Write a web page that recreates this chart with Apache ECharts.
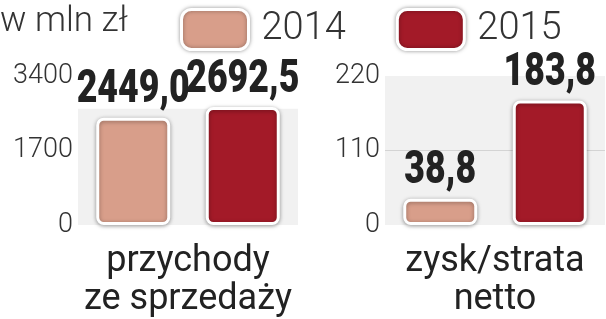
<!DOCTYPE html>
<html>
<head>
<meta charset="utf-8">
<script src="https://cdn.jsdelivr.net/npm/echarts@6/dist/echarts.min.js"></script>
<style>
html,body{margin:0;padding:0;background:#fff;}
#chart{width:606px;height:319px;}
</style>
</head>
<body>
<div id="chart"></div>
<script>
const categories = ['przychody\nze sprzedaży', 'zysk/strata\nnetto'];
const seriesNames = ['2014', '2015'];
const values2014 = [2449.0, 38.8];
const values2015 = [2692.5, 183.8];
const leftTicks = [0, 1700, 3400];
const rightTicks = [0, 110, 220];
const unitLabel = 'w mln zł';

const colors = ['#d89e8a', '#a31a28'];
const barStyle = (c) => ({
  color: c, borderColor: '#ffffff', borderWidth: 3, borderRadius: 6,
  shadowBlur: 4, shadowColor: 'rgba(0,0,0,0.35)', shadowOffsetY: 1
});
const fmtNum = (v) => v.toFixed(1).replace('.', ',');
const axisFont = "Roboto, 'Open Sans', sans-serif";
const BAR_W = 74, BAR_GAP = 0.48;

function yAx(gridIndex, ticks) {
  return {
    type: 'value', gridIndex, min: ticks[0], max: ticks[ticks.length - 1],
    interval: ticks[1] - ticks[0],
    axisLine: { show: false }, axisTick: { show: false },
    axisLabel: { margin: 5, fontFamily: axisFont, fontWeight: 300, fontSize: 27, color: '#333',
      formatter: (v) => String(v) },
    splitLine: { show: true, lineStyle: { color: ['rgba(0,0,0,0)', '#d4d4d4', 'rgba(0,0,0,0)'], width: 1 } }
  };
}
function xAx(gridIndex, cat) {
  return {
    type: 'category', gridIndex, data: [cat],
    axisLine: { show: false }, axisTick: { show: false },
    axisLabel: { margin: 18, fontFamily: axisFont, fontWeight: 400, fontSize: 36, lineHeight: 38, color: '#222' }
  };
}
// value labels: custom series of condensed bold text placed over each bar
function labelSeries(gridIndex, vals) {
  return {
    type: 'custom', xAxisIndex: gridIndex, yAxisIndex: gridIndex, silent: true, z: 10,
    data: vals.map((v, i) => [0, v, i]),
    renderItem: (params, api) => {
      const pt = api.coord([api.value(0), api.value(1)]);
      const offset = (BAR_W * (1 + BAR_GAP)) / 2;
      const dir = api.value(2) === 0 ? -1 : 1;
      return {
        type: 'text', x: pt[0] + dir * offset, y: pt[1] - 27, scaleX: 0.76,
        style: {
          text: fmtNum(api.value(1)), fill: '#222', align: 'center', verticalAlign: 'middle',
          fontFamily: "Roboto, 'DejaVu Sans Condensed', sans-serif", fontWeight: 900, fontSize: 47
        }
      };
    }
  };
}

const chart = echarts.init(document.getElementById('chart'), null, { renderer: 'canvas' });
chart.setOption({
  animation: false,
  title: {
    text: unitLabel, left: 0, top: 5, padding: 0,
    textStyle: { fontFamily: axisFont, fontWeight: 300, fontSize: 35, color: '#333' }
  },
  legend: {
    data: seriesNames, left: 180, top: 8, padding: 0, itemWidth: 67, itemHeight: 40, itemGap: 50,
    icon: 'roundRect',
    itemStyle: { borderColor: '#fff', borderWidth: 3, shadowBlur: 4, shadowColor: 'rgba(0,0,0,0.35)' },
    textStyle: { fontFamily: axisFont, fontWeight: 300, fontSize: 38, color: '#333', padding: [0, 0, 0, 8] }
  },
  grid: [
    { left: 78, top: 76, width: 220, height: 150, show: false },
    { left: 385, top: 76, width: 220, height: 150, show: true, backgroundColor: '#f1f1f1', borderWidth: 0 }
  ],
  xAxis: [xAx(0, categories[0]), xAx(1, categories[1])],
  yAxis: [yAx(0, leftTicks), yAx(1, rightTicks)],
  series: [
    { name: seriesNames[0], type: 'bar', xAxisIndex: 0, yAxisIndex: 0, data: [values2014[0]],
      barWidth: BAR_W, barGap: (BAR_GAP * 100) + '%', itemStyle: barStyle(colors[0]),
      markArea: { silent: true, itemStyle: { color: '#f1f1f1' }, data: [[{ yAxis: 0 }, { yAxis: 2650 }]] } },
    { name: seriesNames[1], type: 'bar', xAxisIndex: 0, yAxisIndex: 0, data: [values2015[0]],
      barWidth: BAR_W, barGap: (BAR_GAP * 100) + '%', itemStyle: barStyle(colors[1]) },
    { name: seriesNames[0], type: 'bar', xAxisIndex: 1, yAxisIndex: 1, data: [values2014[1]],
      barWidth: BAR_W, barGap: (BAR_GAP * 100) + '%', itemStyle: barStyle(colors[0]) },
    { name: seriesNames[1], type: 'bar', xAxisIndex: 1, yAxisIndex: 1, data: [values2015[1]],
      barWidth: BAR_W, barGap: (BAR_GAP * 100) + '%', itemStyle: barStyle(colors[1]) },
    labelSeries(0, [values2014[0], values2015[0]]),
    labelSeries(1, [values2014[1], values2015[1]])
  ]
});
</script>
</body>
</html>
